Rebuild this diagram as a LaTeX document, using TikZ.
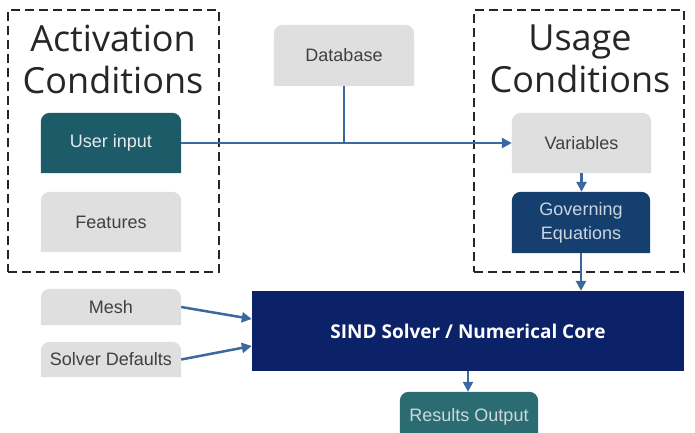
\documentclass[tikz,border=0pt]{standalone}
\usepackage{fontspec}
\setmainfont{Liberation Sans}
\newfontfamily\headfont{Open Sans}
\usetikzlibrary{arrows.meta}
\pgfdeclarelayer{bg}
\pgfsetlayers{bg,main}
\definecolor{boxgray}{HTML}{DFDFDF}
\definecolor{txtgray}{HTML}{404040}
\definecolor{tealA}{HTML}{1E5B68}
\definecolor{tealB}{HTML}{2B6C72}
\definecolor{govblue}{HTML}{143F6E}
\definecolor{solverblue}{HTML}{0B2168}
\definecolor{arrowc}{HTML}{3B68A0}
\newcommand\topfill[2]{%
  \begin{pgfonlayer}{bg}
  \fill[#2] (#1.south west) -- ([yshift=-9pt]#1.north west)
    arc[start angle=180,end angle=90,radius=9pt]
    -- ([xshift=-9pt]#1.north east)
    arc[start angle=90,end angle=0,radius=9pt]
    -- (#1.south east) -- cycle;
  \end{pgfonlayer}}
\begin{document}
\begin{tikzpicture}[x=1pt,y=1pt,
  groupbox/.style={draw=black!85, line width=2.4pt, dash pattern=on 9pt off 5pt, inner sep=0pt},
  head/.style={font=\headfont\fontsize{36}{42}\selectfont, align=center, text=black!85},
  lbox/.style={inner sep=0pt, font=\fontsize{18}{22}\selectfont, align=center},
  conn/.style={draw=arrowc, line width=2.5pt},
  arr/.style={conn, -{Triangle[length=10pt,width=10pt]}}]
\useasboundingbox (0,0) rectangle (695,432);
% groups
\node[groupbox, minimum width=211, minimum height=262] (actgrp) at (113.5,291) {};
\node[groupbox, minimum width=210, minimum height=262] (usegrp) at (579,291) {};
\node[head] (acttitle) at (113,373) {Activation\\Conditions};
\node[head] (usetitle) at (580,373) {Usage\\Conditions};
% boxes
\node[lbox, minimum width=140, minimum height=60, text=white!88!tealA] (userinput) at (111,289) {User input};
\node[lbox, minimum width=140, minimum height=60, text=txtgray] (features) at (111,210) {Features};
\node[lbox, minimum width=140, minimum height=61, text=txtgray] (database) at (344,376.5) {Database};
\node[lbox, minimum width=139, minimum height=60, text=txtgray] (variables) at (581.5,289) {Variables};
\node[lbox, minimum width=138, minimum height=61, text=white!78!govblue, font=\fontsize{18}{24}\selectfont] (governing) at (581,209.5) {Governing\\Equations};
\node[lbox, minimum width=140, minimum height=36, text=txtgray] (mesh) at (111,125) {Mesh};
\node[lbox, minimum width=140, minimum height=35, text=txtgray] (defaults) at (111,72.5) {Solver Defaults};
\node[lbox, minimum width=432, minimum height=80, fill=solverblue, text=white, font=\headfont\bfseries\fontsize{19}{23}\selectfont] (solver) at (468,101) {SIND Solver / Numerical Core};
\node[lbox, minimum width=138, minimum height=50, text=white!75!tealB] (results) at (469,15) {Results Output};
\topfill{userinput}{tealA}
\topfill{features}{boxgray}
\topfill{database}{boxgray}
\topfill{variables}{boxgray}
\topfill{governing}{govblue}
\topfill{mesh}{boxgray}
\topfill{defaults}{boxgray}
\topfill{results}{tealB}
% connectors
\draw[arr] (userinput.east) -- (variables.west);
\draw[conn] (database.south) -- (database.south |- userinput.east);
\draw[arr] (variables.south) -- (variables.south |- governing.north);
\draw[arr] (governing.south) -- (governing.south |- solver.north);
\draw[arr] (mesh.east) -- ([yshift=12pt]solver.west);
\draw[arr] (defaults.east) -- ([yshift=-15pt]solver.west);
\draw[arr] (solver.south) -- (solver.south |- results.north);
\end{tikzpicture}
\end{document}
